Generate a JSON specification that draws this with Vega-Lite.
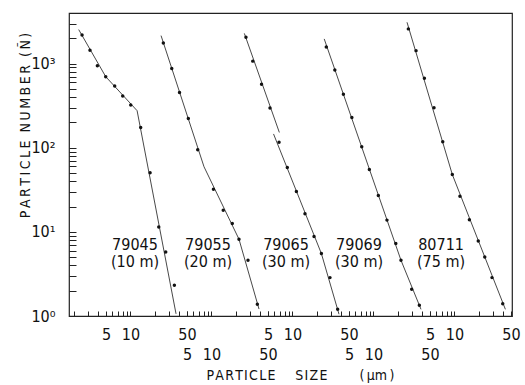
{
  "$schema": "https://vega.github.io/schema/vega-lite/v6.json",
  "width": 443,
  "height": 303,
  "autosize": {"type": "none"},
  "padding": {"left": 69, "top": 13, "right": 13, "bottom": 69},
  "background": "white",
  "config": {
    "view": {"stroke": "#222", "strokeWidth": 1.2},
    "font": "'Liberation Sans Narrow', 'DejaVu Sans Condensed', 'Liberation Sans'",
    "axis": {"grid": false, "domain": false, "labelColor": "#111", "tickColor": "#222", "titleColor": "#111", "labelFont": "'Liberation Sans Narrow', 'DejaVu Sans Condensed', 'Liberation Sans'", "titleFont": "'Liberation Sans Narrow', 'DejaVu Sans Condensed', 'Liberation Sans'", "titleFontWeight": "normal"}
  },
  "datasets": {
    "obs": [
      {"p": 1, "size": 2.53, "N": 2196}, {"p": 1, "size": 3.17, "N": 1440}, {"p": 1, "size": 3.91, "N": 946}, {"p": 1, "size": 4.96, "N": 700}, {"p": 1, "size": 6.40, "N": 543}, {"p": 1, "size": 8.04, "N": 413}, {"p": 1, "size": 10.1, "N": 322}, {"p": 1, "size": 13.4, "N": 174}, {"p": 1, "size": 17.5, "N": 50.4}, {"p": 1, "size": 22.4, "N": 11.4}, {"p": 1, "size": 27.3, "N": 5.78}, {"p": 1, "size": 34.9, "N": 2.32},
      {"p": 2, "size": 2.55, "N": 1763}, {"p": 2, "size": 3.24, "N": 877}, {"p": 2, "size": 4.04, "N": 455}, {"p": 2, "size": 5.19, "N": 223}, {"p": 2, "size": 6.78, "N": 94.7}, {"p": 2, "size": 10.6, "N": 32.2}, {"p": 2, "size": 14.0, "N": 18.1}, {"p": 2, "size": 18.1, "N": 12.6}, {"p": 2, "size": 21.9, "N": 8.19}, {"p": 2, "size": 28.3, "N": 4.60}, {"p": 2, "size": 36.9, "N": 1.38},
      {"p": 3, "size": 2.67, "N": 2057}, {"p": 3, "size": 3.24, "N": 1071}, {"p": 3, "size": 4.16, "N": 570}, {"p": 3, "size": 5.29, "N": 297}, {"p": 3, "size": 6.84, "N": 116}, {"p": 3, "size": 8.65, "N": 58.3}, {"p": 3, "size": 11.2, "N": 30.2}, {"p": 3, "size": 14.3, "N": 16.4}, {"p": 3, "size": 18.5, "N": 8.79}, {"p": 3, "size": 22.8, "N": 5.52}, {"p": 3, "size": 29.1, "N": 2.86}, {"p": 3, "size": 36.2, "N": 1.20},
      {"p": 4, "size": 2.62, "N": 1580}, {"p": 4, "size": 3.34, "N": 841}, {"p": 4, "size": 4.26, "N": 433}, {"p": 4, "size": 5.42, "N": 229}, {"p": 4, "size": 7.18, "N": 103}, {"p": 4, "size": 8.91, "N": 55.2}, {"p": 4, "size": 11.5, "N": 27.0}, {"p": 4, "size": 14.7, "N": 13.8}, {"p": 4, "size": 18.9, "N": 7.26}, {"p": 4, "size": 21.9, "N": 4.60}, {"p": 4, "size": 29.7, "N": 2.08}, {"p": 4, "size": 36.9, "N": 1.34},
      {"p": 5, "size": 2.70, "N": 2589}, {"p": 5, "size": 3.36, "N": 1428}, {"p": 5, "size": 4.26, "N": 672}, {"p": 5, "size": 5.60, "N": 299}, {"p": 5, "size": 7.18, "N": 118}, {"p": 5, "size": 9.42, "N": 48.1}, {"p": 5, "size": 11.7, "N": 26.5}, {"p": 5, "size": 15.3, "N": 13.9}, {"p": 5, "size": 19.7, "N": 7.81}, {"p": 5, "size": 23.7, "N": 5.04}, {"p": 5, "size": 29.1, "N": 2.86}, {"p": 5, "size": 39.5, "N": 1.40}
    ],
    "fit": [
      {"p": 1, "seg": "a", "ord": 1, "size": 2.30, "N": 2540}, {"p": 1, "seg": "a", "ord": 2, "size": 4.96, "N": 700}, {"p": 1, "seg": "a", "ord": 3, "size": 12.1, "N": 276}, {"p": 1, "seg": "a", "ord": 4, "size": 36.6, "N": 1.06},
      {"p": 2, "seg": "a", "ord": 1, "size": 2.39, "N": 2154}, {"p": 2, "seg": "a", "ord": 2, "size": 8.11, "N": 59.4}, {"p": 2, "seg": "a", "ord": 3, "size": 21.9, "N": 8.19}, {"p": 2, "seg": "a", "ord": 4, "size": 38.7, "N": 1.21},
      {"p": 3, "seg": "a", "ord": 1, "size": 2.55, "N": 2290}, {"p": 3, "seg": "a", "ord": 2, "size": 6.90, "N": 152},
      {"p": 3, "seg": "b", "ord": 1, "size": 5.85, "N": 146}, {"p": 3, "seg": "b", "ord": 2, "size": 22.8, "N": 5.52}, {"p": 3, "seg": "b", "ord": 3, "size": 37.6, "N": 1.05},
      {"p": 4, "seg": "a", "ord": 1, "size": 2.47, "N": 1968}, {"p": 4, "seg": "a", "ord": 2, "size": 21.9, "N": 4.60}, {"p": 4, "seg": "a", "ord": 3, "size": 38.7, "N": 1.20},
      {"p": 5, "seg": "a", "ord": 1, "size": 2.60, "N": 3103}, {"p": 5, "seg": "a", "ord": 2, "size": 9.42, "N": 48.1}, {"p": 5, "seg": "a", "ord": 3, "size": 42.6, "N": 1.20}
    ],
    "labels": [
      {"p": 1, "size": 11.4, "N": 7.07, "text": "79045"}, {"p": 1, "size": 11.4, "N": 4.38, "text": "(10 m)"},
      {"p": 2, "size": 9.08, "N": 7.07, "text": "79055"}, {"p": 2, "size": 9.08, "N": 4.38, "text": "(20 m)"},
      {"p": 3, "size": 8.34, "N": 7.07, "text": "79065"}, {"p": 3, "size": 8.34, "N": 4.38, "text": "(30 m)"},
      {"p": 4, "size": 6.64, "N": 7.07, "text": "79069"}, {"p": 4, "size": 6.64, "N": 4.38, "text": "(30 m)"},
      {"p": 5, "size": 6.84, "N": 7.07, "text": "80711"}, {"p": 5, "size": 6.84, "N": 4.38, "text": "(75 m)"}
    ]
  },
  "encoding": {
    "y": {
      "field": "N", "type": "quantitative",
      "scale": {"type": "log", "domain": [1, 4000], "nice": false},
      "axis": {
        "values": [1,2,3,4,5,6,7,8,9,10,20,30,40,50,60,70,80,90,100,200,300,400,500,600,700,800,900,1000,2000,3000,4000],
        "labelExpr": "datum.value == 1 ? '10⁰' : datum.value == 10 ? '10¹' : datum.value == 100 ? '10²' : datum.value == 1000 ? '10³' : ''",
        "tickSize": -7, "labelPadding": 21, "labelFontSize": 16, "labelOverlap": false, "labelBound": false,
        "title": "P\u2009A\u2009R\u2009T\u2009I\u2009C\u2009L\u2009E\u00a0\u00a0N\u2009U\u2009M\u2009B\u2009E\u2009R\u00a0\u00a0(\u2009Ñ\u2009)",
        "titleFontSize": 14, "titleAngle": 270, "titleX": -44, "titleY": 112, "titleAlign": "center", "titleBaseline": "middle"
      }
    }
  },
  "layer": [
    {
      "encoding": {"x": {"field": "size", "type": "quantitative", "scale": {"type": "log", "domain": [1.746, 514000], "nice": false},
        "axis": {"orient": "bottom", "values": [2,3,4,5,6,7,8,9,10,20,30,40,50], "labelExpr": "indexof([5,10,50], datum.value) >= 0 ? datum.value : ''", "tickSize": -5, "labelPadding": 15, "labelFontSize": 16, "labelOverlap": false, "labelFlush": false, "labelBound": false,
          "title": "P\u200aA\u200aR\u200aT\u200aI\u200aC\u200aL\u200aE\u00a0\u00a0\u00a0\u00a0\u00a0S\u200aI\u200aZ\u200aE\u00a0\u00a0\u00a0\u00a0\u00a0\u00a0\u00a0\u00a0(\u2009μm\u2009)", "titleFontSize": 14, "titleX": 231, "titleY": 59, "titleAlign": "center", "titleBaseline": "middle"}}},
      "layer": [
        {"data": {"name": "fit"}, "transform": [{"filter": "datum.p == 1"}], "mark": {"type": "line", "color": "#333", "strokeWidth": 0.9}, "encoding": {"detail": {"field": "seg"}, "order": {"field": "ord"}}},
        {"data": {"name": "obs"}, "transform": [{"filter": "datum.p == 1"}], "mark": {"type": "point", "filled": true, "color": "#111", "size": 12, "opacity": 1}},
        {"data": {"name": "labels"}, "transform": [{"filter": "datum.p == 1"}], "mark": {"type": "text", "fontSize": 16, "color": "#111", "align": "center", "baseline": "middle"}, "encoding": {"text": {"field": "text"}}}
      ]
    },
    {
      "encoding": {"x": {"field": "size", "type": "quantitative", "scale": {"type": "log", "domain": [0.1746, 51400], "nice": false},
        "axis": {"orient": "bottom", "values": [5,6,7,8,9,10,20,30,40,50], "labelExpr": "indexof([5,10,50], datum.value) >= 0 ? datum.value : ''", "tickSize": -5, "labelPadding": 35, "labelFontSize": 16, "labelOverlap": false, "labelFlush": false, "labelBound": false, "title": null}}},
      "layer": [
        {"data": {"name": "fit"}, "transform": [{"filter": "datum.p == 2"}], "mark": {"type": "line", "color": "#333", "strokeWidth": 0.9}, "encoding": {"detail": {"field": "seg"}, "order": {"field": "ord"}}},
        {"data": {"name": "obs"}, "transform": [{"filter": "datum.p == 2"}], "mark": {"type": "point", "filled": true, "color": "#111", "size": 12, "opacity": 1}},
        {"data": {"name": "labels"}, "transform": [{"filter": "datum.p == 2"}], "mark": {"type": "text", "fontSize": 16, "color": "#111", "align": "center", "baseline": "middle"}, "encoding": {"text": {"field": "text"}}}
      ]
    },
    {
      "encoding": {"x": {"field": "size", "type": "quantitative", "scale": {"type": "log", "domain": [0.01746, 5140], "nice": false},
        "axis": {"orient": "bottom", "values": [5,6,7,8,9,10,20,30,40,50], "labelExpr": "indexof([5,10,50], datum.value) >= 0 ? datum.value : ''", "tickSize": -5, "labelPadding": 15, "labelFontSize": 16, "labelOverlap": false, "labelFlush": false, "labelBound": false, "title": null}}},
      "layer": [
        {"data": {"name": "fit"}, "transform": [{"filter": "datum.p == 3"}], "mark": {"type": "line", "color": "#333", "strokeWidth": 0.9}, "encoding": {"detail": {"field": "seg"}, "order": {"field": "ord"}}},
        {"data": {"name": "obs"}, "transform": [{"filter": "datum.p == 3"}], "mark": {"type": "point", "filled": true, "color": "#111", "size": 12, "opacity": 1}},
        {"data": {"name": "labels"}, "transform": [{"filter": "datum.p == 3"}], "mark": {"type": "text", "fontSize": 16, "color": "#111", "align": "center", "baseline": "middle"}, "encoding": {"text": {"field": "text"}}}
      ]
    },
    {
      "encoding": {"x": {"field": "size", "type": "quantitative", "scale": {"type": "log", "domain": [0.001746, 514], "nice": false},
        "axis": {"orient": "bottom", "values": [5,6,7,8,9,10,20,30,40,50], "labelExpr": "indexof([5,10,50], datum.value) >= 0 ? datum.value : ''", "tickSize": -5, "labelPadding": 35, "labelFontSize": 16, "labelOverlap": false, "labelFlush": false, "labelBound": false, "title": null}}},
      "layer": [
        {"data": {"name": "fit"}, "transform": [{"filter": "datum.p == 4"}], "mark": {"type": "line", "color": "#333", "strokeWidth": 0.9}, "encoding": {"detail": {"field": "seg"}, "order": {"field": "ord"}}},
        {"data": {"name": "obs"}, "transform": [{"filter": "datum.p == 4"}], "mark": {"type": "point", "filled": true, "color": "#111", "size": 12, "opacity": 1}},
        {"data": {"name": "labels"}, "transform": [{"filter": "datum.p == 4"}], "mark": {"type": "text", "fontSize": 16, "color": "#111", "align": "center", "baseline": "middle"}, "encoding": {"text": {"field": "text"}}}
      ]
    },
    {
      "encoding": {"x": {"field": "size", "type": "quantitative", "scale": {"type": "log", "domain": [0.0001746, 51.4], "nice": false},
        "axis": {"orient": "bottom", "values": [5,6,7,8,9,10,20,30,40,50], "labelExpr": "indexof([5,10,50], datum.value) >= 0 ? datum.value : ''", "tickSize": -5, "labelPadding": 15, "labelFontSize": 16, "labelOverlap": false, "labelFlush": false, "labelBound": false, "title": null}}},
      "layer": [
        {"data": {"name": "fit"}, "transform": [{"filter": "datum.p == 5"}], "mark": {"type": "line", "color": "#333", "strokeWidth": 0.9}, "encoding": {"detail": {"field": "seg"}, "order": {"field": "ord"}}},
        {"data": {"name": "obs"}, "transform": [{"filter": "datum.p == 5"}], "mark": {"type": "point", "filled": true, "color": "#111", "size": 12, "opacity": 1}},
        {"data": {"name": "labels"}, "transform": [{"filter": "datum.p == 5"}], "mark": {"type": "text", "fontSize": 16, "color": "#111", "align": "center", "baseline": "middle"}, "encoding": {"text": {"field": "text"}}}
      ]
    }
  ],
  "resolve": {"scale": {"x": "independent"}}
}
